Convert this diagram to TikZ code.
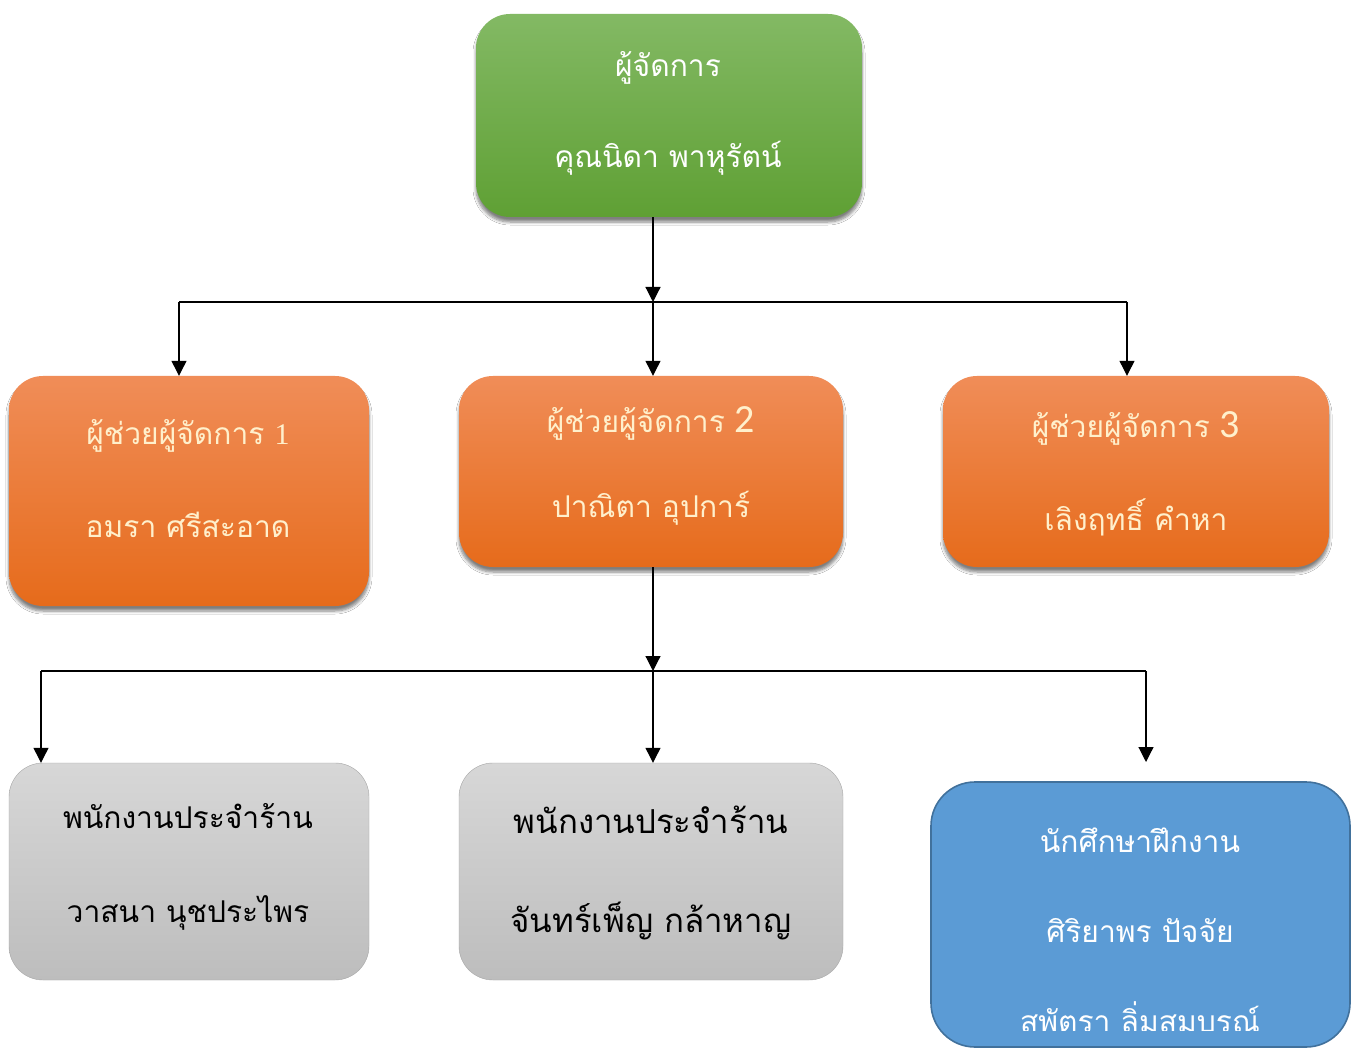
\documentclass[tikz,border=0pt]{standalone}
\usepackage{fontspec}
\usepackage{xcolor}
\usepackage{tikz}
\usetikzlibrary{arrows.meta,positioning,shadows.blur}
\newfontfamily\thaifont[Script=Thai]{Loma}
\newfontfamily\numfont{Carlito}
\newfontfamily\serifnum{Liberation Serif}
\definecolor{MgrTop}{HTML}{83B964}
\definecolor{MgrBot}{HTML}{5FA034}
\definecolor{AsstTop}{HTML}{F08D58}
\definecolor{AsstMid}{HTML}{F47B29}
\definecolor{AsstBot}{HTML}{E66B1B}
\definecolor{AsstText}{HTML}{FFF0CC}
\definecolor{StaffTop}{HTML}{D7D7D7}
\definecolor{StaffBot}{HTML}{BDBDBD}
\definecolor{StaffLine}{HTML}{A6A6A6}
\definecolor{TraineeFill}{HTML}{5B9BD5}
\definecolor{TraineeLine}{HTML}{41719C}

\begin{document}
\begin{tikzpicture}[x=1pt, y=-1pt,
  card/.style={rounded corners=34pt, inner sep=0pt,
    blur shadow={shadow xshift=0pt, shadow yshift=-5pt, shadow blur radius=3pt, shadow blur steps=6, shadow opacity=50}},
  mgrbox/.style={card, top color=MgrTop, bottom color=MgrBot},
  asstbox/.style={card, top color=AsstTop, middle color=AsstMid, bottom color=AsstBot},
  staffbox/.style={rounded corners=34pt, inner sep=0pt, draw=StaffLine, top color=StaffTop, bottom color=StaffBot},
  traineebox/.style={rounded corners=44pt, inner sep=0pt, draw=TraineeLine, line width=1.6pt, fill=TraineeFill},
  txt/.style={inner sep=0pt, anchor=base, font=\thaifont\fontsize{30}{36}\selectfont},
  bigtxt/.style={txt, font=\thaifont\fontsize{33}{40}\selectfont},
  arr/.style={-{Triangle[length=15pt,width=15pt]}, line width=1.2pt}]
  \useasboundingbox (0,0) rectangle (1358,1048);
  \clip (0,0) rectangle (1358,1048);
  \fill[white] (0,0) rectangle (1358,1048);

  \node[mgrbox, minimum width=386pt, minimum height=203pt] (mgr) at (669,115.5) {};
  \node[asstbox, minimum width=360pt, minimum height=230pt] (a1) at (189,491) {};
  \node[asstbox, minimum width=384pt, minimum height=191pt] (a2) at (651,471.5) {};
  \node[asstbox, minimum width=386pt, minimum height=191pt] (a3) at (1136,471.5) {};
  \node[staffbox, minimum width=360pt, minimum height=217pt] (s1) at (189,871.5) {};
  \node[staffbox, minimum width=384pt, minimum height=217pt] (s2) at (651,871.5) {};
  \node[traineebox, minimum width=419pt, minimum height=265pt] (tr) at (1140.5,914.5) {};

  \node[txt, white] (mgrA) at (668,77) {ผู้จัดการ};
  \node[txt, white] (mgrB) at (668,168) {คุณนิดา พาหุรัตน์};
  \node[txt, AsstText] (a1A) at (188,445) {ผู้ช่วยผู้จัดการ {\serifnum 1}};
  \node[txt, AsstText] (a1B) at (188,537) {อมรา ศรีสะอาด};
  \node[txt, AsstText] (a2A) at (651,433) {ผู้ช่วยผู้จัดการ {\numfont\fontsize{40}{40}\selectfont 2}};
  \node[txt, AsstText] (a2B) at (651,518) {ปาณิตา อุปการ์};
  \node[txt, AsstText] (a3A) at (1136,438) {ผู้ช่วยผู้จัดการ {\numfont\fontsize{40}{40}\selectfont 3}};
  \node[txt, AsstText] (a3B) at (1136,530) {เลิงฤทธิ์ คำหา};
  \node[txt, black] (s1A) at (188,828) {พนักงานประจำร้าน};
  \node[txt, black] (s1B) at (188,922) {วาสนา นุชประไพร};
  \node[bigtxt, black] (s2A) at (651,833) {พนักงานประจำร้าน};
  \node[bigtxt, black] (s2B) at (651,932) {จันทร์เพ็ญ กล้าหาญ};
  \node[txt, white] (trA) at (1140,852) {นักศึกษาฝึกงาน};
  \node[txt, white] (trB) at (1140,942) {ศิริยาพร ปัจจัย};
  \begin{scope}
    \clip (931,990) rectangle (1350,1030);
    \node[txt, white] (trC) at (1140,1032) {สุพัตรา ลิ่มสมบูรณ์};
  \end{scope}

  \coordinate (j1) at (653,302);
  \coordinate (j1l) at (179,302);
  \coordinate (j1r) at (1127,302);
  \coordinate (j2) at (653,671);
  \coordinate (j2l) at (41,671);
  \coordinate (j2r) at (1146,671);
  \coordinate (t3) at (1146,762);

  \draw[arr] (j1 |- mgr.south) -- (j1);
  \draw[line width=1.2pt] (j1l) -- (j1r);
  \draw[arr] (j1l) -- (j1l |- a1.north);
  \draw[arr] (j1) -- (j1 |- a2.north);
  \draw[arr] (j1r) -- (j1r |- a3.north);
  \draw[arr] (j2 |- a2.south) -- (j2);
  \draw[line width=1.2pt] (j2l) -- (j2r);
  \draw[arr] (j2l) -- (j2l |- s1.north);
  \draw[arr] (j2) -- (j2 |- s2.north);
  \draw[arr] (j2r) -- (t3);
\end{tikzpicture}
\end{document}
